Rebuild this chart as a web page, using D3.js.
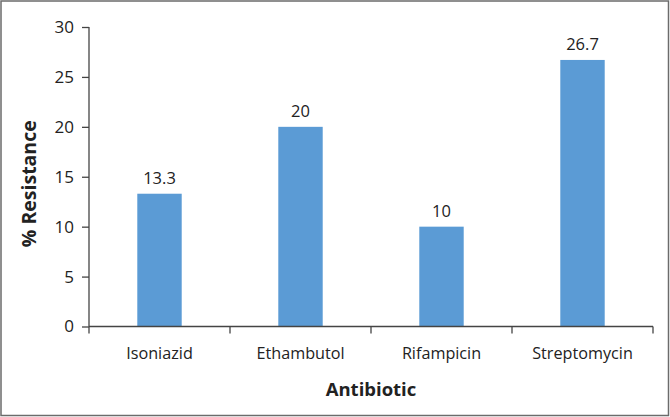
<!DOCTYPE html>
<html><head><meta charset="utf-8">
<script src="https://cdn.jsdelivr.net/npm/d3@7"></script>
<style>html,body{margin:0;padding:0;background:#fff}svg{display:block}</style>
</head><body>
<script>
const categories = ["Isoniazid", "Ethambutol", "Rifampicin", "Streptomycin"];
const resistance = [13.3, 20, 10, 26.7];
const valueLabels = ["13.3", "20", "10", "26.7"];
const yTicks = [0, 5, 10, 15, 20, 25, 30];

const W = 670, H = 417;
const m = {left: 89, right: 17, top: 27, bottom: 90};
const font = "'Open Sans', sans-serif";
const svg = d3.select("body").append("svg").attr("width", W).attr("height", H);

svg.append("rect").attr("x", 1).attr("y", 1).attr("width", W - 2.5).attr("height", H - 2.5)
  .attr("fill", "#fff").attr("stroke", "#6b6b6b").attr("stroke-width", 1.5);

const x = d3.scaleBand().domain(categories).range([m.left, W - m.right]).paddingInner(0.685).paddingOuter(0.3425);
const xb = d3.scaleBand().domain(categories).range([m.left, W - m.right]);
const y = d3.scaleLinear().domain([0, 30]).range([H - m.bottom - 0.5, m.top]);

svg.selectAll("rect.bar").data(categories).join("rect").attr("class", "bar")
  .attr("x", d => x(d)).attr("width", x.bandwidth())
  .attr("y", (d, i) => y(resistance[i])).attr("height", (d, i) => y(0) - y(resistance[i]))
  .attr("fill", "#5b9bd5");

svg.selectAll("text.val").data(categories).join("text").attr("class", "val")
  .attr("x", d => x(d) + x.bandwidth() / 2).attr("y", (d, i) => y(resistance[i]) - 10)
  .attr("text-anchor", "middle").attr("font-family", font).attr("font-size", 16.5).attr("fill", "#222")
  .text((d, i) => valueLabels[i]);

const yAxis = svg.append("g").attr("transform", `translate(${m.left},0)`)
  .call(d3.axisLeft(y).tickValues(yTicks).tickSize(7).tickPadding(8));
yAxis.select(".domain").attr("stroke", "#444").attr("stroke-width", 1.3).attr("d", `M0,${y(0)}V${y(30)}`);
yAxis.selectAll(".tick line").attr("stroke", "#444").attr("stroke-width", 1.3);
yAxis.selectAll("text").attr("font-family", font).attr("font-size", 17).attr("fill", "#222");

const xAxis = svg.append("g").attr("transform", `translate(0,${y(0)})`)
  .call(d3.axisBottom(xb).tickSize(0).tickPadding(0));
xAxis.select(".domain").attr("stroke", "#444").attr("stroke-width", 1.3).attr("d", `M${m.left},0H${W - m.right}`);
xAxis.selectAll(".tick text").attr("font-family", font).attr("font-size", 16.2).attr("fill", "#222").attr("dy", 0).attr("y", 32);
const bounds = [m.left].concat(categories.map(c => xb(c) + xb.bandwidth()));
svg.append("g").selectAll("line").data(bounds).join("line")
  .attr("x1", d => d).attr("x2", d => d).attr("y1", y(0)).attr("y2", y(0) + 7)
  .attr("stroke", "#444").attr("stroke-width", 1.3);

svg.append("text").attr("x", (m.left + W - m.right) / 2).attr("y", 396)
  .attr("text-anchor", "middle").attr("font-family", font).attr("font-weight", "bold").attr("font-size", 18.5).attr("fill", "#222")
  .text("Antibiotic");
svg.append("text").attr("transform", `translate(36,${(y(0) + y(30)) / 2 + 7}) rotate(-90)`)
  .attr("text-anchor", "middle").attr("font-family", font).attr("font-weight", "bold").attr("font-size", 19.5).attr("fill", "#222")
  .text("% Resistance");
</script>
</body></html>
